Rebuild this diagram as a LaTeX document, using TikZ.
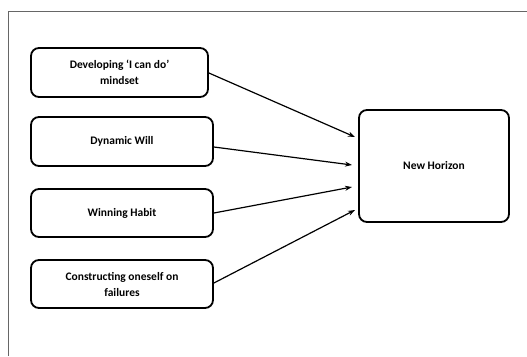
\documentclass[tikz,border=0pt]{standalone}
\usepackage{fontspec}
\setmainfont{Carlito}
\usetikzlibrary{arrows.meta}
\begin{document}
\begin{tikzpicture}[x=1pt,y=-1pt,
  box/.style={draw=black,line width=1.8pt,rounded corners=8pt,align=center,
    font=\fontsize{11.5}{16}\selectfont\bfseries,inner sep=0pt},
  conn/.style={line width=1.2pt,-{Stealth[length=7pt,width=5pt]}},
  frameline/.style={draw=black!60,line width=0.9pt}]
\useasboundingbox (0,0) rectangle (527,356);
\draw[frameline] (8,356) -- (8,11) -- (527,11);
\node[box,minimum width=177pt,minimum height=49pt] (b1) at (119.5,72.5) {Developing ‘I can do’\\mindset};
\node[box,minimum width=182pt,minimum height=49pt] (b2) at (122,141.5) {Dynamic Will};
\node[box,minimum width=182pt,minimum height=48pt] (b3) at (122,213) {Winning Habit};
\node[box,minimum width=182pt,minimum height=48pt] (b4) at (122,284) {Constructing oneself on\\failures};
\node[box,minimum width=150pt,minimum height=112pt] (nh) at (434,166) {New Horizon};
\coordinate (t1) at (355,137);
\coordinate (t2) at (352,165);
\coordinate (t3) at (352,187);
\coordinate (t4) at (355,210);
\draw[conn] ([yshift=-0.5pt]b1.east) -- (t1);
\draw[conn] ([yshift=-5.5pt]b2.east) -- (t2);
\draw[conn] (b3.east) -- (t3);
\draw[conn] ([yshift=1pt]b4.east) -- (t4);
\end{tikzpicture}
\end{document}
